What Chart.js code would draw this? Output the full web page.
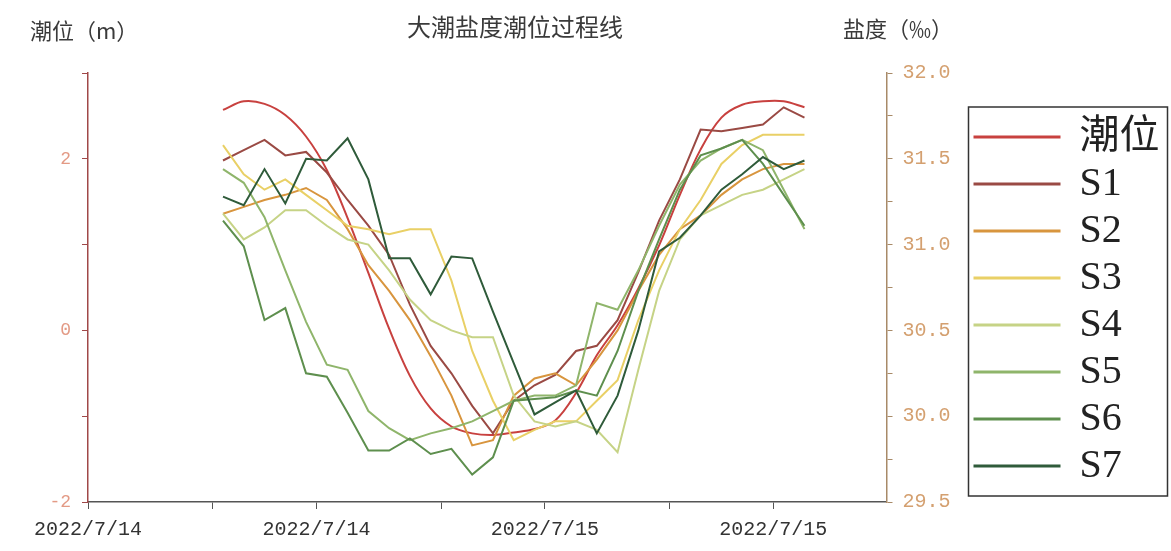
<!DOCTYPE html>
<html><head><meta charset="utf-8">
<script src="https://cdn.jsdelivr.net/npm/chart.js@4.4.1/dist/chart.umd.min.js"></script>
<style>html,body{margin:0;padding:0;background:#fff;}#wrap{width:1171px;height:551px;}</style>
</head><body><div id="wrap"><canvas id="c" width="1171" height="551"></canvas></div>
<script>
const chartTitle = '大潮盐度潮位过程线';
const leftAxisTitle = '潮位（m）';
const rightAxisTitle = '盐度（‰）';
const seriesNames = ['潮位','S1','S2','S3','S4','S5','S6','S7'];
const seriesColors = ['#c8413f','#9a4a44','#d8953e','#e9d066','#c6d386','#8fb56b','#5e8f4e','#2f5b3a'];

// x positions of the samples (axis units: one unit = one sample step)
const timeIndex = [6.5,7.5,8.5,9.5,10.5,11.5,12.5,13.5,14.5,15.5,16.5,17.5,18.5,19.5,20.5,21.5,22.5,23.5,24.5,25.5,26.5,27.5,28.5,29.5,30.5,31.5,32.5,33.5,34.5];
const xTickValues = [0, 11, 22, 33];
const xTickLabels = ['2022/7/14','2022/7/14','2022/7/15','2022/7/15'];
const xMinorTicks = [6, 17, 28];
const tideTicks = [-2,-1,0,1,2,3];
const tideTickLabels = ['-2','','0','','2',''];
const salTicks = [29.5,29.75,30,30.25,30.5,30.75,31,31.25,31.5,31.75,32];
const salTickLabels = ['29.5','','30.0','','30.5','','31.0','','31.5','','32.0'];

// tide level (m)
const tide = [2.57,2.67,2.64,2.51,2.26,1.87,1.31,0.67,0.02,-0.53,-0.91,-1.12,-1.20,-1.22,-1.19,-1.15,-1.05,-0.73,-0.29,0.06,0.49,0.99,1.58,2.11,2.48,2.63,2.67,2.67,2.60];
// salinity (‰)
const s1 = [31.49,31.55,31.61,31.52,31.54,31.42,31.26,31.11,30.94,30.65,30.41,30.25,30.06,29.90,30.09,30.18,30.24,30.38,30.41,30.56,30.84,31.14,31.38,31.67,31.66,31.68,31.70,31.80,31.74];
const s2 = [31.18,31.22,31.26,31.29,31.33,31.26,31.09,30.88,30.73,30.56,30.35,30.12,29.83,29.86,30.12,30.22,30.25,30.18,30.33,30.50,30.73,30.94,31.09,31.17,31.29,31.38,31.44,31.47,31.47];
const s3 = [31.58,31.41,31.32,31.38,31.29,31.20,31.11,31.09,31.06,31.09,31.09,30.79,30.38,30.09,29.86,29.92,29.97,29.97,30.09,30.21,30.56,30.85,31.09,31.26,31.47,31.58,31.64,31.64,31.64];
const s4 = [31.18,31.03,31.10,31.20,31.20,31.11,31.03,31.00,30.85,30.68,30.56,30.50,30.46,30.46,30.12,29.97,29.94,29.97,29.92,29.79,30.27,30.73,31.03,31.17,31.23,31.29,31.32,31.38,31.44];
const s5 = [31.44,31.36,31.16,30.85,30.55,30.30,30.27,30.03,29.93,29.86,29.90,29.93,29.97,30.03,30.09,30.12,30.12,30.18,30.66,30.62,30.85,31.11,31.35,31.49,31.56,31.61,31.55,31.32,31.09];
const s6 = [31.14,30.99,30.56,30.63,30.25,30.23,30.02,29.80,29.80,29.87,29.78,29.81,29.66,29.76,30.09,30.10,30.11,30.15,30.12,30.38,30.73,31.03,31.32,31.52,31.56,31.61,31.47,31.29,31.11];
const s7 = [31.28,31.23,31.44,31.24,31.50,31.49,31.62,31.38,30.92,30.92,30.71,30.93,30.92,30.61,30.31,30.01,30.08,30.15,29.90,30.12,30.50,30.96,31.04,31.17,31.32,31.41,31.51,31.44,31.49];

const allSeries = [tide, s1, s2, s3, s4, s5, s6, s7];

const datasets = allSeries.map((vals, k) => ({
  label: seriesNames[k],
  data: timeIndex.map((t, i) => ({x: t, y: vals[i]})),
  yAxisID: k === 0 ? 'y' : 'y1',
  borderColor: seriesColors[k],
  backgroundColor: seriesColors[k],
  borderWidth: 2,
  pointRadius: 0,
  tension: k === 0 ? 0.35 : 0,
  order: 8 - k
}));

const headerPlugin = {
  id: 'header',
  afterDraw(chart) {
    const ctx = chart.ctx;
    ctx.save();
    ctx.fillStyle = '#3a3a3a';
    ctx.textBaseline = 'middle';
    ctx.textAlign = 'left';
    ctx.font = '22px "Noto Sans CJK SC"';
    ctx.fillText(leftAxisTitle, 30, 31);
    ctx.fillText(rightAxisTitle, 843, 29);
    ctx.textAlign = 'center';
    ctx.font = '24px "Noto Sans CJK SC"';
    ctx.fillText(chartTitle, 515, 27);
    ctx.restore();
  }
};

const legendBoxPlugin = {
  id: 'legendBox',
  afterDraw(chart) {
    const lg = chart.legend;
    if (!lg || !lg.legendHitBoxes || !lg.legendHitBoxes.length) return;
    const hb = lg.legendHitBoxes;
    const first = hb[0], last = hb[hb.length - 1];
    const ctx = chart.ctx;
    const x0 = first.left - 6;
    const y0 = first.top + first.height / 2 - 30;
    const y1 = last.top + last.height / 2 + 30;
    ctx.save();
    ctx.strokeStyle = '#333';
    ctx.lineWidth = 1.5;
    ctx.strokeRect(x0, y0, 199, y1 - y0);
    ctx.restore();
  }
};

new Chart(document.getElementById('c'), {
  type: 'line',
  data: {datasets},
  plugins: [headerPlugin, legendBoxPlugin],
  options: {
    responsive: false,
    animation: false,
    devicePixelRatio: 1,
    layout: {padding: {top: 73, right: 10, bottom: 0, left: 0}},
    plugins: {
      tooltip: {enabled: false},
      title: {display: false},
      legend: {
        position: 'right',
        fullSize: false,
        title: {display: true, text: '', padding: 0, font: {size: 28, lineHeight: 1}},
        labels: {
          sort: (a, b) => a.datasetIndex - b.datasetIndex,
          boxWidth: 85,
          boxHeight: 1,
          padding: 7,
          color: '#222',
          font: {family: '"Liberation Serif", "Noto Sans CJK SC"', size: 40}
        }
      }
    },
    scales: {
      x: {
        type: 'linear',
        min: 0,
        max: 38.45,
        afterBuildTicks: (s) => { s.ticks = xTickValues.concat(xMinorTicks).sort((a,b)=>a-b).map(v => ({value: v})); },
        afterFit: (s) => { s.height = 49; },
        ticks: {
          autoSkip: false, maxRotation: 0, padding: 9,
          color: '#333',
          font: {family: '"Liberation Mono"', size: 20},
          callback: (v) => { const i = xTickValues.indexOf(v); return i >= 0 ? xTickLabels[i] : ''; }
        },
        grid: {drawOnChartArea: false, drawTicks: true, tickLength: 7, tickColor: '#555'},
        border: {color: '#555', width: 1.5}
      },
      y: {
        position: 'left',
        min: -2, max: 3,
        afterBuildTicks: (s) => { s.ticks = tideTicks.map(v => ({value: v})); },
        afterFit: (s) => { s.width = 88; },
        ticks: {
          padding: 11,
          color: '#e39a85',
          font: {family: '"Liberation Mono"', size: 18},
          callback: (v) => tideTickLabels[tideTicks.indexOf(v)]
        },
        grid: {drawOnChartArea: false, drawTicks: true, tickLength: 6, tickColor: '#a04848'},
        border: {color: '#a04848', width: 1.5}
      },
      y1: {
        position: 'right',
        min: 29.5, max: 32,
        afterBuildTicks: (s) => { s.ticks = salTicks.map(v => ({value: v})); },
        afterFit: (s) => { s.width = 81; },
        ticks: {
          padding: 10,
          color: '#d4a070',
          font: {family: '"Liberation Mono"', size: 20},
          callback: (v) => salTickLabels[salTicks.indexOf(v)]
        },
        grid: {drawOnChartArea: false, drawTicks: true, tickLength: 6, tickColor: '#a88a68'},
        border: {color: '#a88a68', width: 1.5}
      }
    }
  }
});
</script>
</body></html>
